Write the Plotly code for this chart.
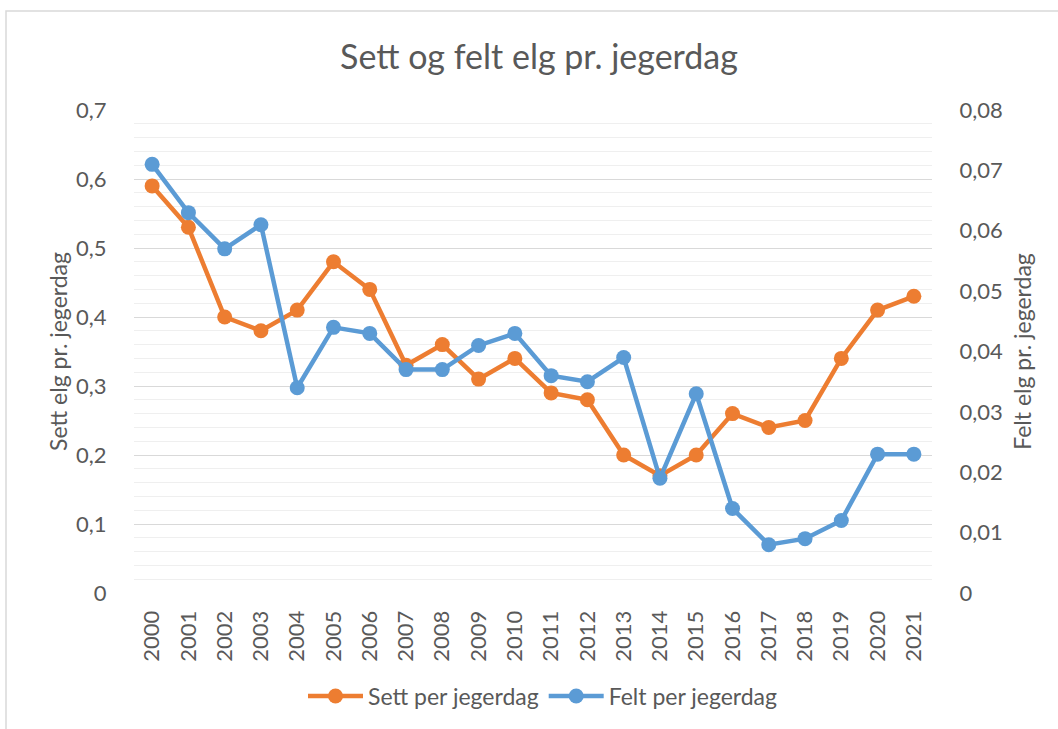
import plotly.graph_objects as go

years = [str(y) for y in range(2000, 2022)]
sett = [0.59, 0.53, 0.40, 0.38, 0.41, 0.48, 0.44, 0.33, 0.36, 0.31, 0.34,
        0.29, 0.28, 0.20, 0.17, 0.20, 0.26, 0.24, 0.25, 0.34, 0.41, 0.43]
felt = [0.071, 0.063, 0.057, 0.061, 0.034, 0.044, 0.043, 0.037, 0.037, 0.041, 0.043,
        0.036, 0.035, 0.039, 0.019, 0.033, 0.014, 0.008, 0.009, 0.012, 0.023, 0.023]

FONT = "Lato, 'Open Sans', 'Noto Sans', sans-serif"
GRAY = "#595959"
ORANGE = "#ED7D31"
BLUE = "#5B9BD5"

fig = go.Figure()
fig.add_trace(go.Scatter(x=years, y=sett, name="Sett per jegerdag", mode="lines+markers",
                         line=dict(color=ORANGE, width=4.5), marker=dict(size=15, color=ORANGE),
                         yaxis="y"))
fig.add_trace(go.Scatter(x=years, y=felt, name="Felt per jegerdag", mode="lines+markers",
                         line=dict(color=BLUE, width=4.5), marker=dict(size=15, color=BLUE),
                         yaxis="y2"))

W, H = 1058, 729
L, R, T, B = 134, 126, 110, 136
pw, ph = W - L - R, H - T - B

fig.update_layout(
    width=W, height=H,
    margin=dict(l=L, r=R, t=T, b=B, autoexpand=False),
    paper_bgcolor="white", plot_bgcolor="white",
    separators=",.",
    font=dict(family=FONT, color=GRAY, size=22),
    title=dict(text="Sett og felt elg pr. jegerdag", x=539 / W, xref="container", xanchor="center",
               y=1 - 57 / H, yref="container", yanchor="middle",
               font=dict(size=34, color=GRAY, family=FONT)),
    xaxis=dict(type="category", tickangle=-90, showgrid=False, showline=False, zeroline=False,
               ticks="outside", ticklen=8, tickcolor="rgba(0,0,0,0)",
               tickfont=dict(size=22, color=GRAY), range=[-0.5, 21.5]),
    yaxis=dict(range=[0, 0.7], dtick=0.1, showgrid=True, gridcolor="#D9D9D9", gridwidth=1.3,
               zeroline=False, showline=False,
               minor=dict(dtick=0.02, showgrid=True, gridcolor="#EFEFEF", gridwidth=1.3),
               ticks="outside", ticklen=22, tickcolor="rgba(0,0,0,0)",
               tickfont=dict(size=22, color=GRAY),
               title=dict(text="Sett elg pr. jegerdag", font=dict(size=23, color=GRAY), standoff=2)),
    yaxis2=dict(range=[0, 0.08], dtick=0.01, overlaying="y", side="right", showgrid=False,
                zeroline=False, showline=False,
                ticks="outside", ticklen=22, tickcolor="rgba(0,0,0,0)",
                tickfont=dict(size=22, color=GRAY),
                title=dict(text="Felt elg pr. jegerdag", font=dict(size=23, color=GRAY), standoff=12)),
    legend=dict(orientation="h", x=543 / W, xref="container", xanchor="center",
                y=1 - 696 / H, yref="container", yanchor="middle",
                font=dict(size=23, color=GRAY), itemwidth=55),
    showlegend=True,
)

# outer chart frame
fig.add_shape(type="rect", xref="paper", yref="paper",
              x0=(6 - L) / pw, x1=(W + 5 - L) / pw,
              y0=-(H + 5 - (T + ph)) / ph, y1=(T + ph - 11) / ph,
              line=dict(color="#D9D9D9", width=1.5), fillcolor="rgba(0,0,0,0)", layer="below")

fig.write_html("out.html", config={"displayModeBar": False},
               post_script="document.body.style.margin='0';document.body.style.overflow='hidden';")
